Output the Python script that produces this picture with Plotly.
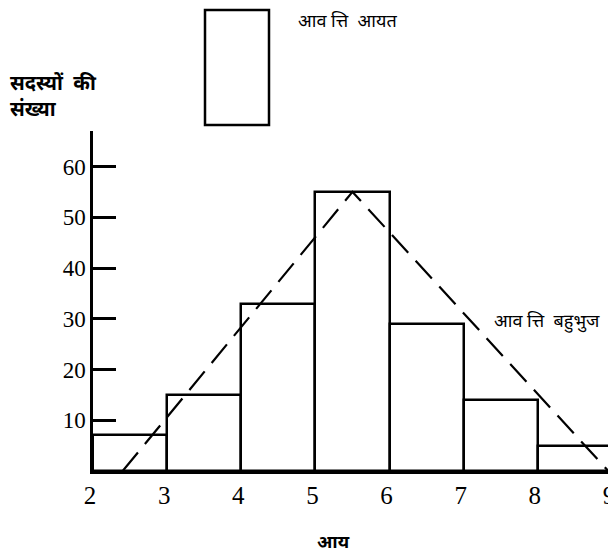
import plotly.graph_objects as go

# Data
bin_starts = [2, 3, 4, 5, 6, 7, 8]
frequencies = [7, 15, 33, 55, 29, 14, 5]
x_ticks = [2, 3, 4, 5, 6, 7, 8, 9]
y_ticks = [10, 20, 30, 40, 50, 60]
poly_x = [2.4, 5.5, 8.95]
poly_y = [0, 55, 0]

legend_rect_label = "आव त्ति  आयत"
polygon_label = "आव त्ति  बहुभुज"
y_title = "सदस्यों  की<br>संख्या"
x_title = "आय"

deva = "Noto Sans Devanagari, Lohit Devanagari, FreeSans, Noto Sans, sans-serif"
serif = "Liberation Serif, Times New Roman, serif"

# plot area in window pixels: x 93..612, y 131..471 (page body adds 8px offset)
PL, PR, PT, PB = 93, 612, 131, 471
PW, PH = PR - PL, PB - PT


def px(x):
    return (x - PL) / PW


def py(y):
    return (PB - y) / PH


fig = go.Figure()
fig.add_trace(go.Bar(
    x=bin_starts, y=frequencies, width=1, offset=0,
    marker=dict(color="white", line=dict(color="black", width=2.5)),
    showlegend=False, hoverinfo="skip",
))
fig.add_trace(go.Scatter(
    x=poly_x, y=poly_y, mode="lines",
    line=dict(color="black", width=2.2, dash="24px,11px"),
    showlegend=False, hoverinfo="skip",
))

# legend-like rectangle
fig.add_shape(type="rect", xref="paper", yref="paper",
              x0=px(205), x1=px(269), y0=py(125), y1=py(10),
              line=dict(color="black", width=2.5), fillcolor="white")
fig.add_annotation(xref="paper", yref="paper", x=px(296), y=py(22),
                   text=legend_rect_label, showarrow=False, xanchor="left", yanchor="middle",
                   font=dict(family=deva, size=18, color="black"))
fig.add_annotation(xref="paper", yref="paper", x=px(492), y=py(322),
                   text=polygon_label, showarrow=False, xanchor="left", yanchor="middle",
                   font=dict(family=deva, size=18, color="black"))
fig.add_annotation(xref="paper", yref="paper", x=px(8), y=py(98),
                   text="<b>" + y_title + "</b>", showarrow=False, xanchor="left", yanchor="middle",
                   align="left", font=dict(family=deva, size=20, color="black"))
fig.add_annotation(xref="paper", yref="paper", x=px(333), y=py(543),
                   text="<b>" + x_title + "</b>", showarrow=False, xanchor="center", yanchor="middle",
                   font=dict(family=deva, size=18, color="black"))

fig.update_layout(
    width=608, height=548,
    margin=dict(l=PL - 8, r=608 + 8 - PR, t=PT - 8, b=548 + 8 - PB, autoexpand=False),
    paper_bgcolor="white", plot_bgcolor="white",
    bargap=0,
    xaxis=dict(range=[2, 9], tickvals=x_ticks, ticktext=[str(v) for v in x_ticks],
               showgrid=False, zeroline=False, showline=True, linecolor="black", linewidth=2.5,
               ticks="", ticklabeloverflow="allow", automargin=False, ticklabelshift=-3,
               tickfont=dict(family=serif, size=25, color="black")),
    yaxis=dict(range=[0, 67], tickvals=y_ticks, ticktext=[str(v) for v in y_ticks],
               showgrid=False, zeroline=False, showline=True, linecolor="black", linewidth=2.5,
               ticks="inside", ticklen=23, tickwidth=2.5, tickcolor="black", automargin=False,
               tickfont=dict(family=serif, size=23, color="black")),
)

fig.write_html("out.html")
